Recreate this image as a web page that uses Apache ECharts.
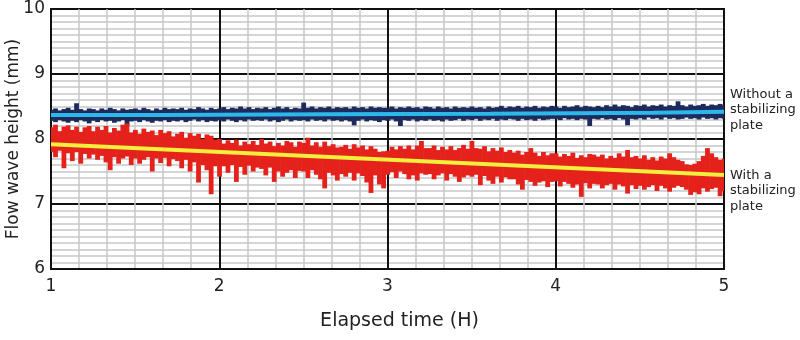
<!DOCTYPE html>
<html>
<head>
<meta charset="utf-8">
<title>Flow wave height</title>
<script src="https://cdn.jsdelivr.net/npm/echarts@6/dist/echarts.min.js"></script>
<style>
  html, body { margin: 0; padding: 0; background: #fff; }
  #chart { width: 800px; height: 340px; }
</style>
</head>
<body>
<div id="chart"></div>
<script>
// elapsed time axis (hours) and height axis (mm)
const xTicks = [1, 2, 3, 4, 5];
const yTicks = [6, 7, 8, 9, 10];
const sampleStart = 1;
const sampleStep = 0.025; // one sample every 1.5 min

// without a stabilizing plate: upper / lower edge of the noise at each sample
const blueHi = [
  8.45, 8.47, 8.44, 8.46, 8.48, 8.45, 8.55, 8.46, 8.44, 8.47,
  8.46, 8.44, 8.47, 8.45, 8.48, 8.46, 8.44, 8.47, 8.45, 8.46,
  8.47, 8.45, 8.48, 8.46, 8.44, 8.47, 8.45, 8.48, 8.46, 8.47,
  8.46, 8.48, 8.45, 8.47, 8.46, 8.49, 8.47, 8.45, 8.48, 8.46,
  8.47, 8.49, 8.46, 8.48, 8.47, 8.50, 8.47, 8.49, 8.46, 8.48,
  8.47, 8.49, 8.46, 8.48, 8.50, 8.47, 8.49, 8.46, 8.48, 8.47,
  8.56, 8.48, 8.50, 8.47, 8.49, 8.48, 8.50, 8.47, 8.49, 8.48,
  8.49, 8.47, 8.50, 8.48, 8.49, 8.47, 8.50, 8.48, 8.49, 8.48,
  8.48, 8.50, 8.47, 8.49, 8.48, 8.50, 8.48, 8.49, 8.47, 8.50,
  8.49, 8.47, 8.50, 8.48, 8.49, 8.47, 8.50, 8.48, 8.49, 8.48,
  8.50, 8.48, 8.49, 8.47, 8.50, 8.48, 8.49, 8.51, 8.48, 8.50,
  8.49, 8.51, 8.48, 8.50, 8.49, 8.51, 8.48, 8.50, 8.49, 8.51,
  8.50, 8.48, 8.51, 8.49, 8.50, 8.52, 8.49, 8.51, 8.50, 8.49,
  8.51, 8.49, 8.52, 8.50, 8.53, 8.50, 8.52, 8.51, 8.49, 8.52,
  8.51, 8.53, 8.50, 8.52, 8.51, 8.53, 8.50, 8.52, 8.51, 8.58,
  8.52, 8.50, 8.53, 8.51, 8.52, 8.54, 8.51, 8.53, 8.52, 8.54, 8.52
];
const blueLo = [
  8.28, 8.26, 8.29, 8.27, 8.25, 8.28, 8.26, 8.29, 8.27, 8.24,
  8.28, 8.26, 8.29, 8.27, 8.28, 8.25, 8.27, 8.29, 8.21, 8.27,
  8.28, 8.26, 8.29, 8.27, 8.25, 8.28, 8.27, 8.29, 8.26, 8.28,
  8.27, 8.29, 8.26, 8.28, 8.30, 8.27, 8.29, 8.26, 8.28, 8.27,
  8.29, 8.27, 8.30, 8.28, 8.26, 8.29, 8.27, 8.30, 8.28, 8.29,
  8.28, 8.30, 8.27, 8.29, 8.26, 8.28, 8.30, 8.27, 8.29, 8.28,
  8.29, 8.27, 8.30, 8.28, 8.29, 8.27, 8.30, 8.28, 8.29, 8.27,
  8.29, 8.27, 8.21, 8.28, 8.30, 8.27, 8.29, 8.28, 8.26, 8.29,
  8.28, 8.30, 8.27, 8.20, 8.29, 8.28, 8.30, 8.27, 8.29, 8.28,
  8.30, 8.28, 8.29, 8.27, 8.30, 8.28, 8.29, 8.31, 8.28, 8.30,
  8.29, 8.31, 8.28, 8.30, 8.29, 8.31, 8.28, 8.30, 8.29, 8.31,
  8.30, 8.28, 8.31, 8.29, 8.30, 8.28, 8.31, 8.29, 8.30, 8.31,
  8.31, 8.29, 8.32, 8.30, 8.31, 8.29, 8.31, 8.30, 8.20, 8.31,
  8.30, 8.32, 8.30, 8.31, 8.29, 8.32, 8.30, 8.21, 8.31, 8.30,
  8.32, 8.30, 8.33, 8.31, 8.32, 8.30, 8.33, 8.31, 8.32, 8.30,
  8.31, 8.33, 8.31, 8.32, 8.30, 8.33, 8.31, 8.32, 8.30, 8.32, 8.31
];

// with a stabilizing plate: upper / lower edge of the noise at each sample
const redHi = [
  8.18, 8.22, 8.12, 8.19, 8.21, 8.14, 8.19, 8.11, 8.18, 8.20,
  8.12, 8.19, 8.14, 8.20, 8.10, 8.17, 8.13, 8.22, 8.24, 8.10,
  8.14, 8.08, 8.16, 8.11, 8.13, 8.06, 8.14, 8.09, 8.12, 8.04,
  8.08, 8.11, 8.02, 8.09, 8.05, 8.08, 8.00, 8.07, 8.05, 7.99,
  8.00, 7.93, 7.98, 7.94, 7.99, 7.90, 7.96, 7.92, 7.97, 7.91,
  8.00, 7.93, 7.96, 7.89, 7.94, 7.90, 7.97, 7.95, 7.88, 7.96,
  7.94, 8.02, 7.90, 7.95, 7.88, 7.96, 7.89, 7.92, 7.87, 7.88,
  7.91, 7.85, 7.92, 7.87, 7.90, 7.84, 7.89, 7.85, 7.80, 7.81,
  7.82, 7.88, 7.84, 7.89, 7.85, 7.90, 7.84, 7.90, 7.97, 7.86,
  7.86, 7.90, 7.83, 7.88, 7.84, 7.89, 7.83, 7.86, 7.91, 7.85,
  7.97, 7.86, 7.85, 7.89, 7.81, 7.86, 7.82, 7.87, 7.80, 7.83,
  7.79, 7.82, 7.76, 7.80, 7.86, 7.79, 7.74, 7.80, 7.75, 7.78,
  7.78, 7.73, 7.77, 7.74, 7.79, 7.71, 7.75, 7.72, 7.77, 7.76,
  7.73, 7.76, 7.70, 7.74, 7.71, 7.78, 7.73, 7.83, 7.72, 7.74,
  7.70, 7.75, 7.68, 7.72, 7.67, 7.73, 7.70, 7.78, 7.72, 7.68,
  7.66, 7.61, 7.60, 7.62, 7.66, 7.74, 7.86, 7.78, 7.72, 7.68, 7.70
];
const redLo = [
  7.80, 7.72, 7.82, 7.55, 7.78, 7.66, 7.80, 7.62, 7.77, 7.70,
  7.76, 7.68, 7.74, 7.64, 7.52, 7.72, 7.62, 7.70, 7.73, 7.60,
  7.70, 7.62, 7.68, 7.72, 7.50, 7.70, 7.63, 7.71, 7.58, 7.69,
  7.66, 7.55, 7.68, 7.50, 7.64, 7.33, 7.60, 7.52, 7.15, 7.58,
  7.42, 7.58, 7.48, 7.60, 7.34, 7.57, 7.45, 7.59, 7.50, 7.56,
  7.54, 7.44, 7.56, 7.34, 7.50, 7.42, 7.48, 7.52, 7.40, 7.51,
  7.50, 7.40, 7.52, 7.45, 7.38, 7.24, 7.48, 7.44, 7.36, 7.46,
  7.42, 7.48, 7.36, 7.47, 7.43, 7.33, 7.17, 7.44, 7.30, 7.24,
  7.45, 7.49, 7.40, 7.50, 7.46, 7.38, 7.44, 7.36, 7.47, 7.45,
  7.46, 7.38, 7.44, 7.47, 7.36, 7.46, 7.42, 7.34, 7.41, 7.44,
  7.42, 7.45, 7.29, 7.43, 7.36, 7.31, 7.42, 7.33, 7.41, 7.38,
  7.38, 7.30, 7.22, 7.37, 7.34, 7.28, 7.33, 7.35, 7.26, 7.34,
  7.35, 7.27, 7.34, 7.31, 7.25, 7.30, 7.11, 7.32, 7.24, 7.31,
  7.30, 7.24, 7.29, 7.31, 7.22, 7.30, 7.27, 7.16, 7.29, 7.23,
  7.28, 7.22, 7.26, 7.29, 7.20, 7.28, 7.24, 7.19, 7.25, 7.28,
  7.26, 7.22, 7.14, 7.18, 7.15, 7.24, 7.19, 7.23, 7.25, 7.12, 7.20
];

// smoothed levels drawn over the noise
const blueTrendX = [1, 1.66, 2.64, 3.61, 4.58, 5];
const blueTrend = [8.37, 8.38, 8.39, 8.405, 8.42, 8.42];
const redTrendX = [1, 5];
const redTrend = [7.92, 7.445];

const labelWithout = 'Without a\nstabilizing\nplate';
const labelWith = 'With a\nstabilizing\nplate';

const FONT = 'DejaVu Sans';

function bandData(hi, lo) {
  return hi.map((h, i) => [sampleStart + i * sampleStep, lo[i], h]);
}

function bandRender(color) {
  return function (params, api) {
    const x = api.value(0);
    const bottom = api.coord([x, api.value(1)]);
    const top = api.coord([x, api.value(2)]);
    const w = api.size([sampleStep, 0])[0];
    const rect = echarts.graphic.clipRectByRect(
      { x: bottom[0] - w / 2, y: top[1], width: w + 0.6, height: bottom[1] - top[1] },
      { x: params.coordSys.x, y: params.coordSys.y, width: params.coordSys.width, height: params.coordSys.height }
    );
    return rect && { type: 'rect', shape: rect, style: { fill: color } };
  };
}

const chart = echarts.init(document.getElementById('chart'));
chart.setOption({
  animation: false,
  grid: {
    left: 51, right: 76, top: 9, bottom: 71, outerBoundsMode: 'none', containLabel: false,
    show: true, borderColor: '#111', borderWidth: 2
  },
  xAxis: {
    type: 'value', min: xTicks[0], max: xTicks[xTicks.length - 1], interval: 1,
    name: 'Elapsed time (H)', nameLocation: 'middle', nameGap: 43,
    nameTextStyle: { fontFamily: FONT, fontSize: 19, color: '#222', padding: [0, 0, 0, 24] },
    axisLine: { lineStyle: { color: '#111', width: 2 } },
    axisTick: { show: false },
    axisLabel: { fontFamily: FONT, fontSize: 17, color: '#222', margin: 9 },
    splitLine: { lineStyle: { color: '#111', width: 2 } },
    minorTick: { show: false, splitNumber: 6 },
    minorSplitLine: { show: true, lineStyle: { color: '#c8c8c8', width: 1.5 } }
  },
  yAxis: {
    type: 'value', min: yTicks[0], max: yTicks[yTicks.length - 1], interval: 1,
    name: 'Flow wave height (mm)', nameLocation: 'middle', nameGap: 29, nameMoveOverlap: false,
    nameTextStyle: { fontFamily: FONT, fontSize: 17, color: '#222' },
    axisLine: { lineStyle: { color: '#111', width: 2 } },
    axisTick: { show: false },
    axisLabel: { fontFamily: FONT, fontSize: 17, color: '#222', margin: 6 },
    splitLine: { lineStyle: { color: '#111', width: 2 } },
    minorTick: { show: false, splitNumber: 10 },
    minorSplitLine: { show: true, lineStyle: { color: '#c8c8c8', width: 1.5 } }
  },
  series: [
    {
      type: 'custom', name: 'Without a stabilizing plate',
      data: bandData(blueHi, blueLo), encode: { x: 0, y: [1, 2] },
      renderItem: bandRender('#1d2a5c'), z: 3
    },
    {
      type: 'custom', name: 'With a stabilizing plate',
      data: bandData(redHi, redLo), encode: { x: 0, y: [1, 2] },
      renderItem: bandRender('#e4221b'), z: 3
    },
    {
      type: 'line', step: 'end', symbol: 'none', z: 4,
      data: blueTrendX.map((x, i) => [x, blueTrend[i]]),
      lineStyle: { color: '#2db8ea', width: 4 },
      endLabel: {
        show: true, formatter: labelWithout, distance: 6, offset: [0, -2],
        fontFamily: FONT, fontSize: 13, lineHeight: 15.5, color: '#222', align: 'left'
      }
    },
    {
      type: 'line', symbol: 'none', z: 4,
      data: redTrendX.map((x, i) => [x, redTrend[i]]),
      lineStyle: { color: '#f3ef3c', width: 4 },
      endLabel: {
        show: true, formatter: labelWith, distance: 6, offset: [0, 16],
        fontFamily: FONT, fontSize: 13, lineHeight: 15.5, color: '#222', align: 'left'
      }
    }
  ]
});
</script>
</body>
</html>
